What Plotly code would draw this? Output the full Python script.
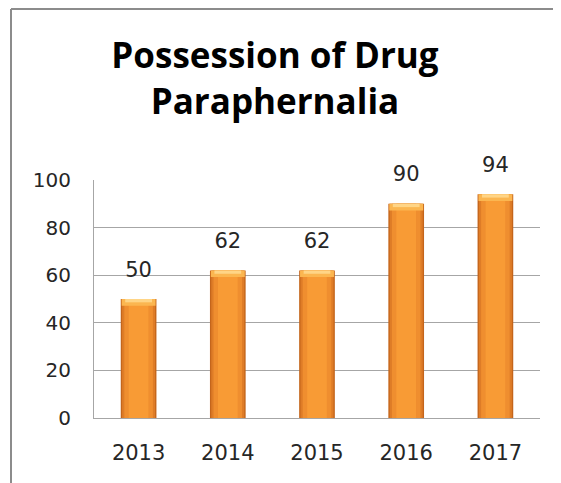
import plotly.graph_objects as go

years = ["2013", "2014", "2015", "2016", "2017"]
counts = [50, 62, 62, 90, 94]
y_ticks = [0, 20, 40, 60, 80, 100]
title_text = "Possession of Drug<br>Paraphernalia"

W, H = 561, 483
# the page body adds an 8px offset, so margins are set in figure coordinates
L, R, T, B = 86, 29, 172, 73
pw, ph = W - L - R, H - T - B

fig = go.Figure()
# bar body layers (simulated gradient)
for width, color in [(0.40, "#C4651B"), (0.37, "#DE7C27"), (0.32, "#EF8E2F"), (0.22, "#F89B35")]:
    fig.add_trace(go.Bar(x=years, y=counts, width=width, marker=dict(color=color, line=dict(width=0)),
                         hoverinfo="skip", showlegend=False))
# top bevel
fig.add_trace(go.Bar(x=years, y=[2.8] * len(counts), base=[c - 2.8 for c in counts], width=0.38,
                     marker=dict(color="#FBB650", line=dict(width=0)), hoverinfo="skip", showlegend=False))
fig.add_trace(go.Bar(x=years, y=[1.4] * len(counts), base=[c - 1.4 for c in counts], width=0.30,
                     marker=dict(color="#FFD586", line=dict(width=0)), hoverinfo="skip", showlegend=False))

# data labels
fig.add_trace(go.Scatter(x=years, y=counts, mode="markers+text", text=[str(c) for c in counts],
                         textposition="top center",
                         marker=dict(size=26, opacity=0),
                         textfont=dict(family="DejaVu Sans", size=21, color="#262626"),
                         hoverinfo="skip", showlegend=False, cliponaxis=False))

# frame lines (top & left of the chart box)
x_left = (3 - L) / pw
y_top = (H - B - 1) / ph
y_bot = (H - B - H - 5) / ph
fig.add_shape(type="line", xref="paper", yref="paper", x0=x_left, x1=(W + 5 - L) / pw, y0=y_top, y1=y_top,
              line=dict(color="#8C8C8C", width=2))
fig.add_shape(type="line", xref="paper", yref="paper", x0=x_left, x1=x_left, y0=y_top, y1=y_bot,
              line=dict(color="#8C8C8C", width=2))

fig.update_layout(
    width=W, height=H,
    margin=dict(l=L, r=R, t=T, b=B, autoexpand=False),
    barmode="overlay",
    bargap=0.6,
    plot_bgcolor="white", paper_bgcolor="white",
    title=dict(text=title_text, x=267 / W, xanchor="center", y=1 - 60 / H, yanchor="top",
               font=dict(family="Open Sans", size=35, color="#000000", weight="bold")),
    xaxis=dict(type="category", range=[-0.5, len(years) - 0.5], showgrid=False, showline=True,
               linecolor="#A6A6A6", linewidth=1, ticks="",
               tickfont=dict(family="DejaVu Sans", size=21, color="#262626"), ticklabelstandoff=16,
               fixedrange=True, automargin=False),
    yaxis=dict(range=[0, 100], tickvals=y_ticks, showgrid=True, gridcolor="#A6A6A6", gridwidth=1,
               showline=True, linecolor="#A6A6A6", linewidth=1, zeroline=False, ticks="",
               tickfont=dict(family="DejaVu Sans", size=20, color="#262626"), ticklabelstandoff=18,
               fixedrange=True, automargin=False),
)

fig.write_html("out.html")
